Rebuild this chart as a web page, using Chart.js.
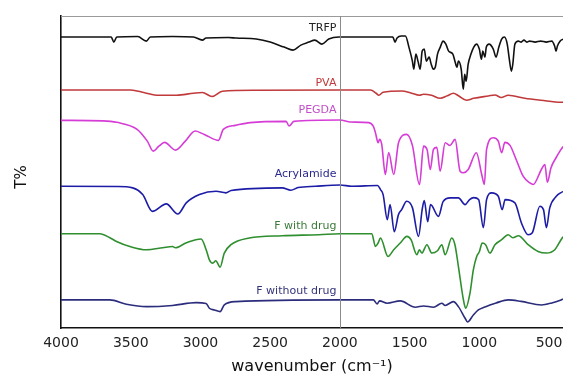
<!DOCTYPE html>
<html>
<head>
<meta charset="utf-8">
<script src="https://cdn.jsdelivr.net/npm/chart.js@4/dist/chart.umd.min.js"></script>
<style>
  html, body { margin: 0; padding: 0; background: #fff; }
  #wrap { width: 563px; height: 376px; }
</style>
</head>
<body>
<div id="wrap"><canvas id="ftir"></canvas></div>
<script>
// ===== DATA (wavenumber in cm-1, transmittance in stacked arbitrary units) =====
const xTicks = [4000, 3500, 3000, 2500, 2000, 1500, 1000, 500];

const trfpWn = [4000, 3700, 3640, 3621, 3600, 3450, 3388, 3360, 3200, 3050, 2986, 2960, 2800, 2743, 2600, 2500, 2400, 2336, 2280, 2221, 2180, 2129, 2080, 2007,
  1700, 1620, 1605, 1590, 1560, 1530, 1505, 1480, 1470, 1455, 1440, 1424, 1410, 1395, 1380, 1360, 1345, 1330, 1316, 1300, 1280, 1260, 1240, 1220, 1190,
  1175, 1160, 1150, 1130, 1115, 1105, 1095, 1080, 1060, 1040, 1020, 1000, 985, 975, 960, 950, 930, 900, 880, 860, 840, 820, 800, 785, 770, 760, 745,
  720, 700, 680, 660, 640, 600, 560, 520, 480, 460, 450, 440, 420, 400];
const trfpT = [290, 290, 290, 285, 290, 290.5, 286, 290, 290.5, 290, 287, 289, 289.5, 289, 288, 285, 280, 277, 282, 285, 287, 283, 288, 290,
  290, 290, 285, 289, 291, 291, 280, 266, 258, 273, 266, 258, 276, 278, 266, 270, 263, 258, 260, 273, 280, 286, 283, 276, 273,
  266, 260, 266, 258, 238, 253, 246, 263, 273, 280, 283, 278, 268, 276, 270, 280, 283, 278, 270, 280, 288, 290, 283, 268, 256, 263, 283,
  286, 285, 287, 285, 286, 285, 286, 285, 286, 281, 276, 281, 286, 288];

const pvaWn = [4000, 3500, 3400, 3300, 3171, 3050, 2986, 2917, 2843, 2600, 2000, 1780, 1740, 1721, 1690, 1557, 1486, 1430, 1400, 1343, 1281, 1230,
  1186, 1150, 1093, 1040, 936, 888, 843, 793, 674, 557, 414, 400];
const pvaT = [237.3, 237.3, 234.5, 232, 232, 234, 234.7, 230.7, 236, 237, 237.3, 237.3, 234, 232, 235, 236.3, 234, 232, 233, 232, 229, 231.5,
  234, 231.5, 227, 229, 231.3, 232.3, 229.7, 232, 229, 227, 225, 225];

const pegdaWn = [4000, 3700, 3600, 3454, 3380, 3338, 3300, 3257, 3179, 3110, 3038, 2990, 2950, 2871, 2836, 2750, 2643, 2386, 2364, 2330, 2000,
  1923, 1793, 1760, 1745, 1726, 1715, 1700, 1674, 1650, 1614, 1579, 1521, 1480, 1429, 1400, 1375, 1352, 1329, 1305, 1281, 1245, 1210, 1174,
  1138, 1114, 1080, 1021, 983, 964, 948, 900, 864, 840, 817, 780, 736, 686, 638, 614, 555, 530, 512, 486, 450, 414, 400];
const pegdaT = [207, 206.5, 205, 198, 186, 176.3, 181, 185, 177.3, 186, 196.3, 194, 191.3, 187, 198, 202, 204.7, 206, 201.3, 206, 207.3,
  205.3, 204.7, 201, 194.7, 184.7, 188, 183, 153, 175, 153, 185, 193, 182, 143, 181.3, 178, 158, 178, 180, 156.3, 184.7, 182, 188,
  156.3, 154.7, 158, 174.7, 153, 143, 178, 189.7, 186.3, 174.7, 185, 182, 168, 151.3, 144.7, 143, 158, 163, 145.3, 159.7, 169.7, 178, 181];

const acrylWn = [4000, 3600, 3486, 3414, 3345, 3245, 3162, 3102, 3007, 2888, 2817, 2780, 2414, 2352, 2300, 2174, 2000, 1914, 1730, 1709,
  1690, 1660, 1640, 1610, 1580, 1557, 1521, 1480, 1436, 1410, 1395, 1370, 1350, 1293, 1260, 1209, 1150, 1102, 1070, 1040, 1005, 971, 948,
  912, 864, 836, 815, 745, 698, 650, 620, 566, 540, 519, 495, 448, 414, 400];
const acrylT = [141.3, 141, 139.7, 133, 116.3, 123.7, 113.7, 124.7, 133, 136.3, 134.7, 137, 139.7, 137.3, 140, 141.3, 142.5, 141.3, 142, 138,
  133, 108, 123, 96, 113, 118, 126.3, 120, 91.3, 118, 127, 106, 123, 111.3, 126, 129.7, 129.7, 123, 128, 130, 128, 100, 128,
  134.7, 131.3, 118, 128, 124.7, 104.7, 93, 95, 121.3, 118, 100, 119.7, 131.3, 135, 136];

const withDrugWn = [4000, 3721, 3650, 3602, 3500, 3388, 3271, 3200, 3180, 3100, 2995, 2959, 2936, 2912, 2890, 2859, 2829, 2781, 2650, 2414,
  2150, 2000, 1771, 1745, 1725, 1709, 1655, 1614, 1567, 1519, 1490, 1448, 1430, 1412, 1376, 1341, 1300, 1269, 1245, 1198, 1175, 1150,
  1114, 1098, 1067, 1043, 1019, 1000, 979, 955, 924, 888, 840, 793, 760, 720, 650, 579, 519, 459, 414, 400];
const withDrugT = [94, 94, 90, 86.3, 81, 78, 80, 81.3, 80, 85, 88.7, 78, 68, 64.7, 67, 60.7, 74.7, 83, 89.7, 92,
  93, 94, 94, 81.3, 85, 89.7, 71.3, 78, 84.7, 91.3, 88, 73, 78, 74.7, 83, 74.7, 77, 83, 73, 89.7, 83, 61.3,
  28, 19.7, 34.7, 58, 71.3, 76, 84.7, 83, 74.7, 83, 88, 93, 90, 92, 83, 76.3, 74.7, 78, 88, 91];

const noDrugWn = [4000, 3650, 3531, 3388, 3200, 3031, 2960, 2936, 2900, 2859, 2829, 2745, 2000, 1760, 1733, 1715, 1662, 1567, 1459, 1400,
  1329, 1269, 1245, 1186, 1150, 1102, 1085, 1043, 1007, 960, 924, 880, 793, 700, 555, 480, 414, 400];
const noDrugT = [28, 28, 23.7, 21.3, 22.5, 25.3, 24.5, 19.7, 18, 16.3, 23, 26.3, 28, 28, 24, 27, 24.7, 27, 20.7, 22,
  20.7, 24.7, 22.5, 26.3, 21.3, 9.7, 6, 13, 18, 21, 23, 25, 28, 26.5, 23, 25, 28, 29];

// label text, colour, anchor (wavenumber, T)
const traceNames = ['TRFP', 'PVA', 'PEGDA', 'Acrylamide', 'F with drug', 'F without drug'];
const traceColors = ['#111111', '#c0393b', '#d63cd6', '#1c1ca6', '#2f8f2f', '#2c2c7c'];
const labelColors = ['#222222', '#c0393b', '#c24fc9', '#2a2a8e', '#3a7a3a', '#34347a'];
const labelT = [299, 244, 217, 153, 102, 37];
const labelWn = 2025;

const FONT = '"DejaVu Sans", Verdana, sans-serif';

// ===== BUILD DATASETS =====
const traces = [
  [trfpWn, trfpT], [pvaWn, pvaT], [pegdaWn, pegdaT],
  [acrylWn, acrylT], [withDrugWn, withDrugT], [noDrugWn, noDrugT]
];

const datasets = traces.map(([wn, t], i) => ({
  label: traceNames[i],
  data: wn.map((w, k) => ({ x: w, y: t[k] })),
  borderColor: traceColors[i],
  borderWidth: 1.6,
  pointRadius: 0,
  cubicInterpolationMode: 'monotone',
  fill: false
}));

// frame, 2000 cm-1 marker, trace labels, y title
const decorations = {
  id: 'decorations',
  afterDatasetsDraw(chart) {
    const { ctx, chartArea: a, scales: { x, y } } = chart;
    ctx.save();
    // top frame line
    ctx.strokeStyle = '#9a9a9a';
    ctx.lineWidth = 1.2;
    ctx.beginPath();
    ctx.moveTo(a.left, a.top + 0.5);
    ctx.lineTo(a.right, a.top + 0.5);
    ctx.stroke();
    // vertical line at 2000
    const x2000 = Math.round(x.getPixelForValue(2000)) + 0.5;
    ctx.strokeStyle = '#8a8a8a';
    ctx.lineWidth = 1;
    ctx.beginPath();
    ctx.moveTo(x2000, a.top);
    ctx.lineTo(x2000, a.bottom);
    ctx.stroke();
    // trace labels
    ctx.font = '11px ' + FONT;
    ctx.textAlign = 'right';
    ctx.textBaseline = 'middle';
    traceNames.forEach((name, i) => {
      ctx.fillStyle = labelColors[i];
      ctx.fillText(name, x.getPixelForValue(labelWn), y.getPixelForValue(labelT[i]));
    });
    // y title
    ctx.fillStyle = '#111';
    ctx.font = '15px ' + FONT;
    ctx.textAlign = 'center';
    ctx.translate(22, (a.top + a.bottom) / 2 + 5);
    ctx.rotate(-Math.PI / 2);
    ctx.fillText('T%', 0, 0);
    ctx.restore();
  }
};

new Chart(document.getElementById('ftir'), {
  type: 'line',
  data: { datasets },
  plugins: [decorations],
  options: {
    responsive: true,
    maintainAspectRatio: false,
    animation: false,
    layout: { padding: { top: 16, right: 0, left: 0, bottom: 0 } },
    plugins: { legend: { display: false }, tooltip: { enabled: false } },
    scales: {
      x: {
        type: 'linear',
        reverse: true,
        min: 400,
        max: 4000,
        afterBuildTicks: s => { s.ticks = xTicks.map(v => ({ value: v })); },
        afterFit: s => { s.height = 48; s.paddingLeft = 0; s.paddingRight = 0; },
        grid: { display: false, drawTicks: false },
        border: { display: true, color: '#111', width: 1.6 },
        ticks: {
          padding: 7,
          maxRotation: 0,
          autoSkip: false,
          color: '#222',
          callback: v => String(v),
          font: { family: FONT, size: 14 }
        },
        title: {
          display: true,
          text: 'wavenumber (cm\u207B\u00B9)',
          color: '#111',
          padding: { top: 3, bottom: 0 },
          font: { family: FONT, size: 16 }
        }
      },
      y: {
        min: 0,
        max: 311,
        afterFit: s => { s.width = 61; },
        grid: { display: false, drawTicks: false },
        border: { display: true, color: '#111', width: 1.6 },
        ticks: { display: false }
      }
    }
  }
});
</script>
</body>
</html>
